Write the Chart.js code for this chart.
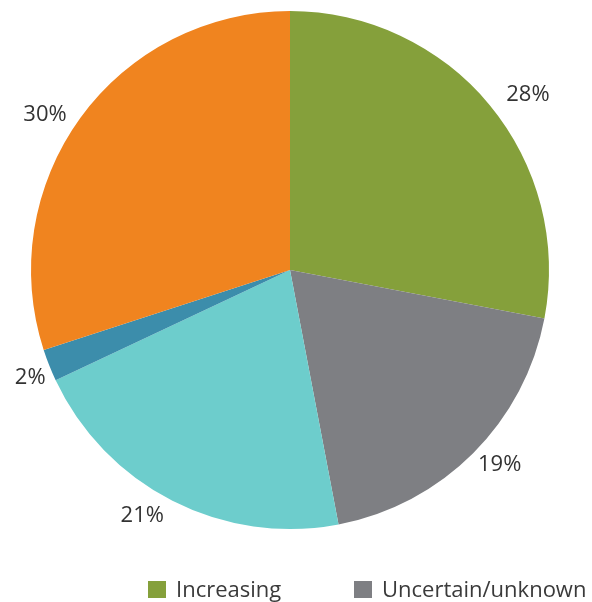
<!DOCTYPE html>
<html>
<head>
<meta charset="utf-8">
<script src="https://cdn.jsdelivr.net/npm/chart.js@4/dist/chart.umd.min.js"></script>
<style>
  html, body { margin: 0; padding: 0; background: #fff; overflow: hidden; }
  #wrap { position: relative; width: 592px; height: 602px; }
  #legend { position: absolute; left: 0; top: 575px; width: 592px; height: 27px;
            font-family: "Open Sans", sans-serif; font-size: 22px; line-height: 26px; color: #3a3a3a; }
  .item { position: absolute; top: 0; white-space: nowrap; }
  .box { display: inline-block; width: 18px; height: 17px; margin-right: 10px; vertical-align: -1px; }
</style>
</head>
<body>
<div id="wrap">
  <canvas id="myChart" width="592" height="602"></canvas>
  <div id="legend"></div>
</div>
<script>
// slice values, clockwise from 12 o'clock
const percents = [28, 19, 21, 2, 30];
const colors = ["#85a03b", "#7e7f83", "#6dcdcc", "#3c8dab", "#f0841f"];
// only the first two legend entries are shown
const legendNames = ["Increasing", "Uncertain/unknown"];
const legendX = [148, 354];

// percent text outside each slice, with a small hand nudge per label
const labelShift = [[16, 8], [6, -9], [-17, -11], [8, 2], [-12, 14]];
const outsideLabels = {
  id: "outsideLabels",
  afterDatasetsDraw(chart) {
    const ctx = chart.ctx;
    const arcs = chart.getDatasetMeta(0).data;
    ctx.save();
    ctx.font = "22px 'Open Sans', sans-serif";
    ctx.fillStyle = "#333";
    ctx.textAlign = "center";
    ctx.textBaseline = "middle";
    arcs.forEach(function (arc, i) {
      const p = arc.getProps(["x", "y", "startAngle", "endAngle", "outerRadius"], true);
      const mid = (p.startAngle + p.endAngle) / 2;
      const r = p.outerRadius + 29;
      const s = labelShift[i] || [0, 0];
      ctx.fillText(percents[i] + "%", p.x + Math.cos(mid) * r + s[0], p.y + Math.sin(mid) * r + s[1]);
    });
    ctx.restore();
  }
};

var ctx = document.getElementById("myChart").getContext("2d");
var chart = new Chart(ctx, {
  type: "pie",
  data: {
    labels: percents.map(function (v, i) { return legendNames[i] || ""; }),
    datasets: [{
      data: percents,
      backgroundColor: colors,
      borderWidth: 0
    }]
  },
  options: {
    responsive: false,
    animation: false,
    layout: { padding: { left: 31, right: 43, top: 11, bottom: 73 } },
    plugins: {
      legend: { display: false },
      tooltip: { enabled: false }
    }
  },
  plugins: [outsideLabels]
});

// html legend
var legend = document.getElementById("legend");
legendNames.forEach(function (name, i) {
  var item = document.createElement("div");
  item.className = "item";
  item.style.left = legendX[i] + "px";
  item.innerHTML = '<span class="box" style="background:' + colors[i] + '"></span>' + name;
  legend.appendChild(item);
});
</script>
</body>
</html>
